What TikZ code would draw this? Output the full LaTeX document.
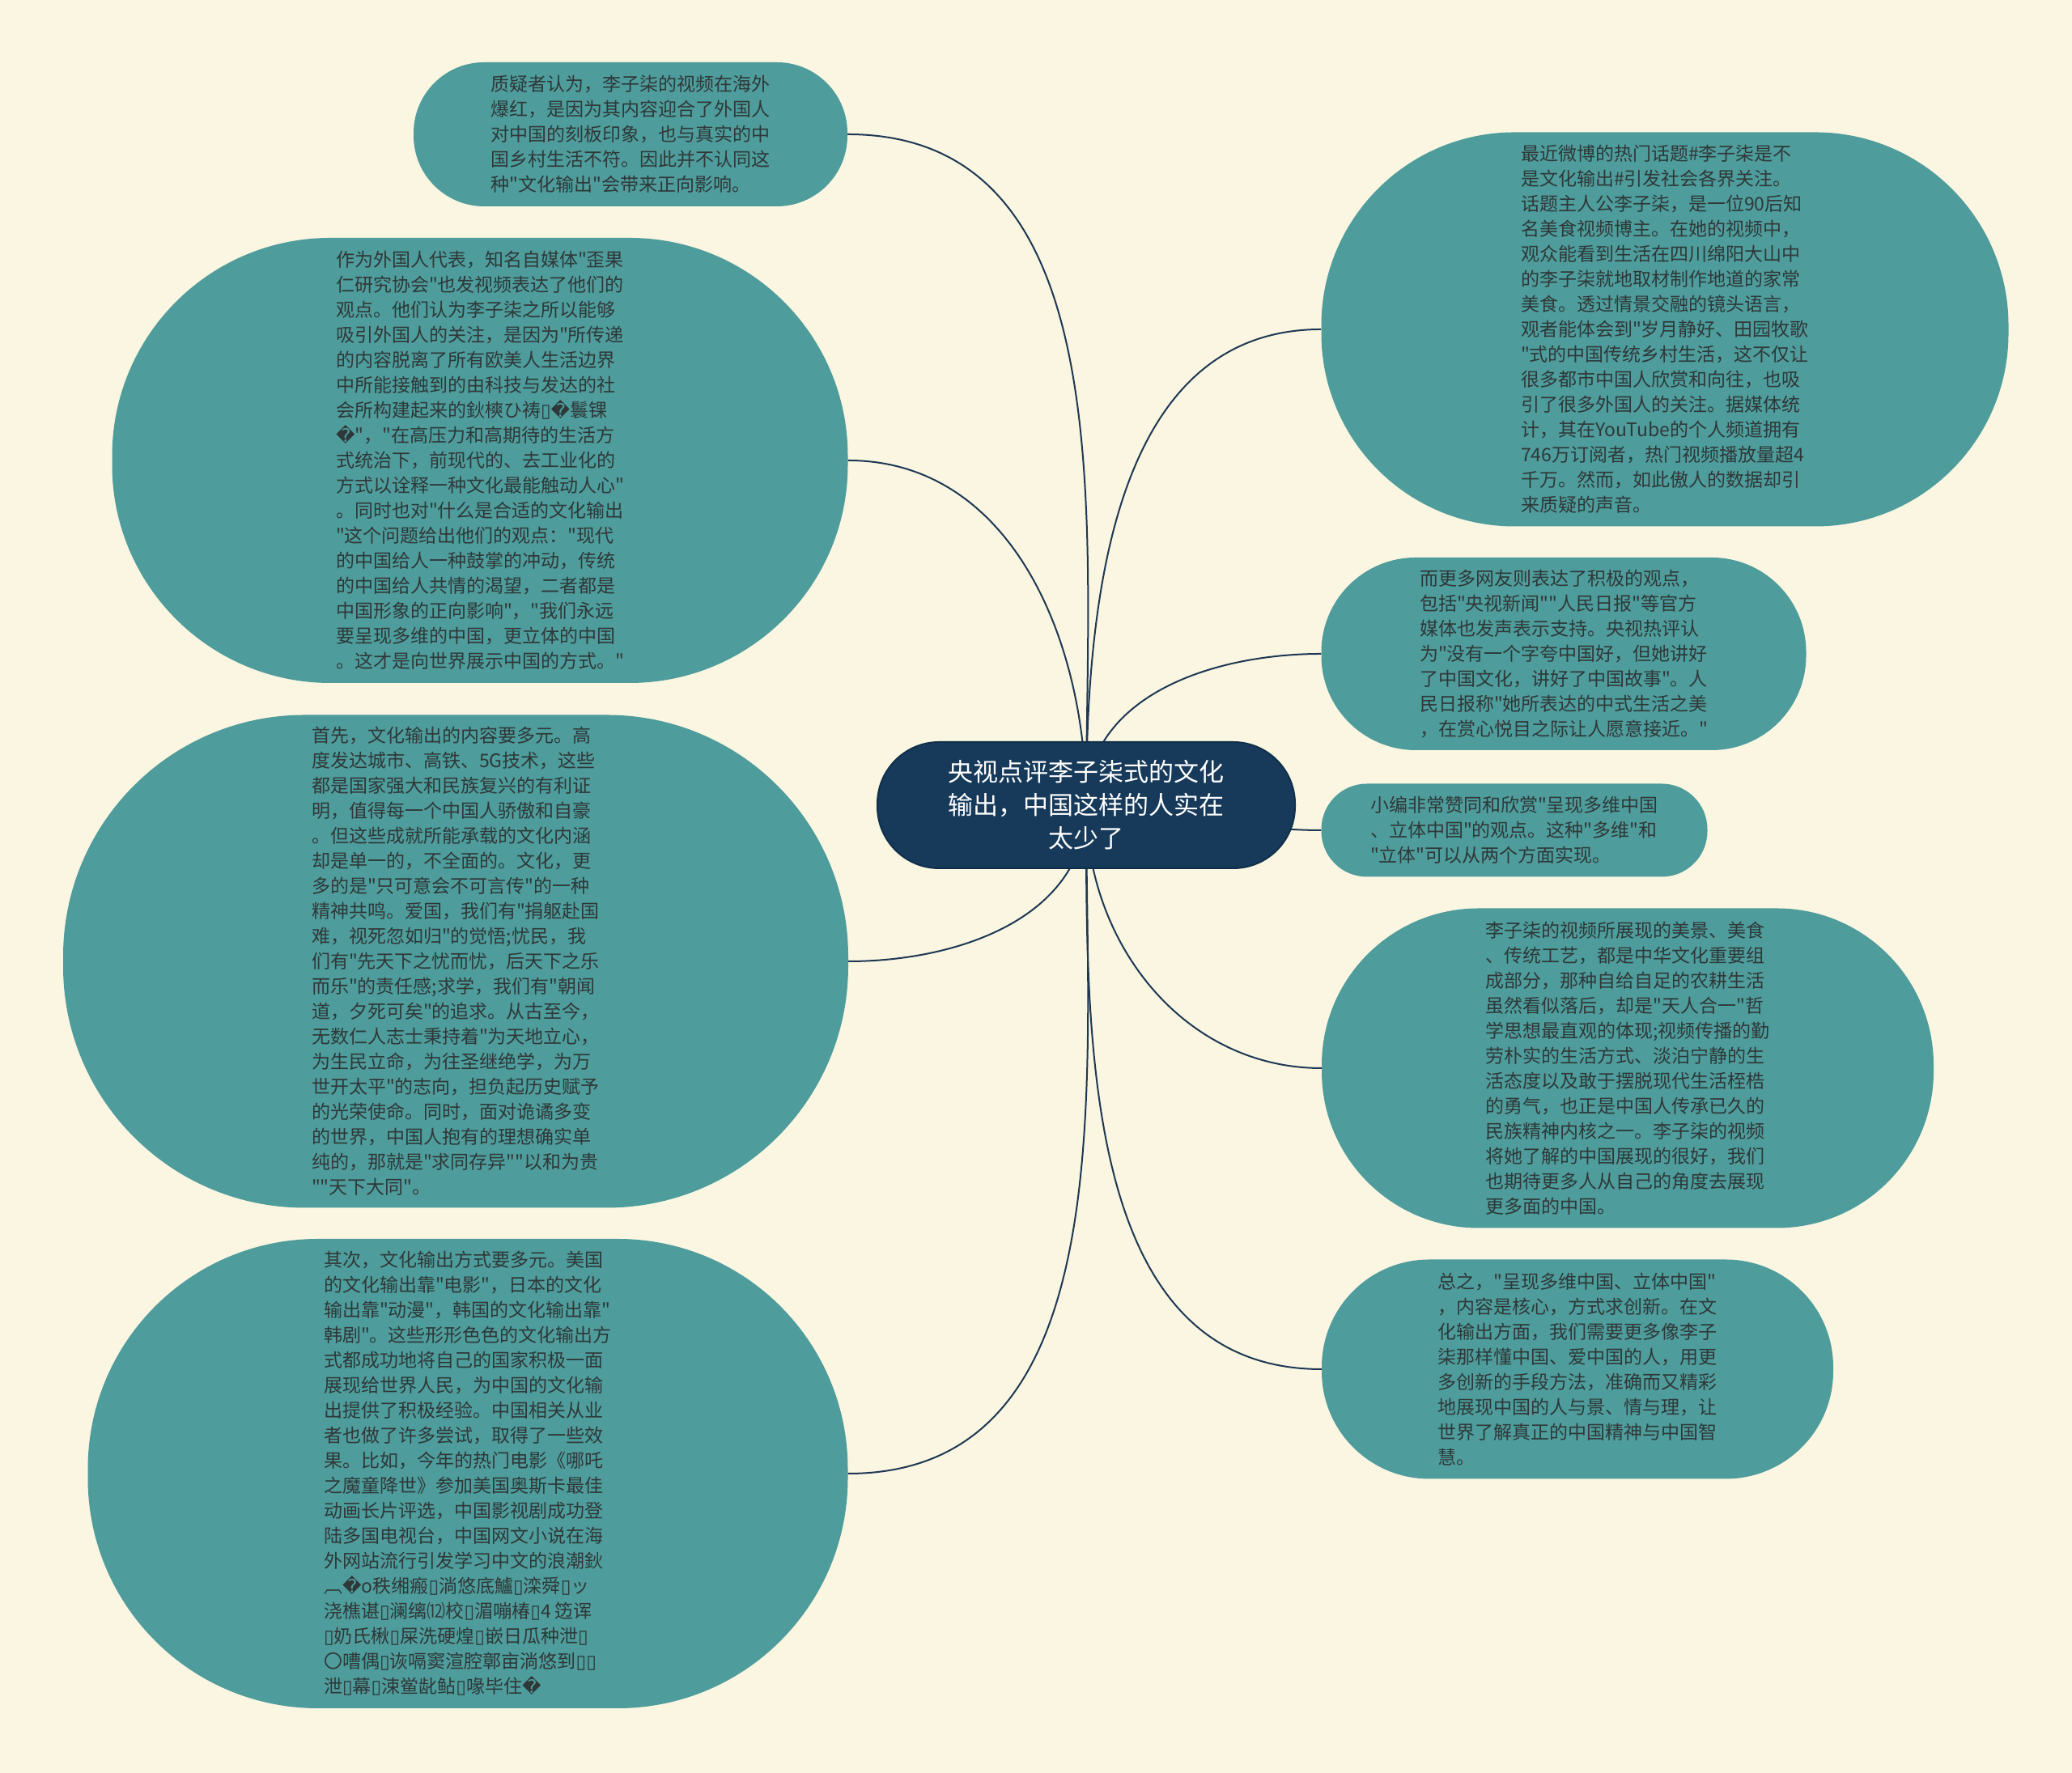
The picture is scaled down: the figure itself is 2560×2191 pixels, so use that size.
\documentclass[tikz,border=0pt]{standalone}
\usepackage{fontspec}
\usetikzlibrary{backgrounds}
\newfontfamily\cjk{Noto Sans CJK SC}
\newfontfamily\djv{DejaVu Sans}
\definecolor{paper}{HTML}{FAF6E1}
\definecolor{leafcol}{HTML}{4F9C9C}
\definecolor{inkcol}{HTML}{2E3838}
\definecolor{navy}{HTML}{173A5A}
\definecolor{navyedge}{HTML}{10304B}
\definecolor{linkcol}{HTML}{1E3854}
\newcommand{\tofu}{{\djv ▯}}
\newcommand{\bad}{{\djv �}}

\begin{document}
\begin{tikzpicture}[
x=1pt, y=1pt,
leaf/.style={fill=leafcol, text=inkcol, align=left, inner sep=0pt, font=\cjk\fontsize{23}{31}\selectfont},
main/.style={fill=navy, draw=navyedge, line width=2pt, text=white, align=center, inner sep=0pt, font=\cjk\fontsize{31}{41}\selectfont},
pill/.style 2 args={minimum width=#1pt, minimum height=#2pt, rounded corners=0.49*#2pt},
link/.style={draw=linkcol, line width=2pt}
]
\useasboundingbox (0,0) rectangle (2560,2191);

\node[main, pill={516}{156}] (title) at (1342,1196) {央视点评李子柒式的文化\\输出，中国这样的人实在\\太少了};

% left branches
\node[leaf, pill={536}{178}] (doubt) at (779,2025) {质疑者认为，李子柒的视频在海外\\
爆红，是因为其内容迎合了外国人\\
对中国的刻板印象，也与真实的中\\
国乡村生活不符。因此并不认同这\\
种"文化输出"会带来正向影响。};
\node[leaf, pill={909}{550}] (foreign) at (593,1622) {作为外国人代表，知名自媒体"歪果\\
仁研究协会"也发视频表达了他们的\\
观点。他们认为李子柒之所以能够\\
吸引外国人的关注，是因为"所传递\\
的内容脱离了所有欧美人生活边界\\
中所能接触到的由科技与发达的社\\
会所构建起来的鈥樉ひ祷\tofu{}\bad{}鬟锞\\
\bad{}"，"在高压力和高期待的生活方\\
式统治下，前现代的、去工业化的\\
方式以诠释一种文化最能触动人心"\\
。同时也对"什么是合适的文化输出\\
"这个问题给出他们的观点："现代\\
的中国给人一种鼓掌的冲动，传统\\
的中国给人共情的渴望，二者都是\\
中国形象的正向影响"，"我们永远\\
要呈现多维的中国，更立体的中国\\
。这才是向世界展示中国的方式。"};
\node[leaf, pill={970}{609}] (content) at (563,1003) {首先，文化输出的内容要多元。高\\
度发达城市、高铁、5G技术，这些\\
都是国家强大和民族复兴的有利证\\
明，值得每一个中国人骄傲和自豪\\
。但这些成就所能承载的文化内涵\\
却是单一的，不全面的。文化，更\\
多的是"只可意会不可言传"的一种\\
精神共鸣。爱国，我们有"捐躯赴国\\
难，视死忽如归"的觉悟;忧民，我\\
们有"先天下之忧而忧，后天下之乐\\
而乐"的责任感;求学，我们有"朝闻\\
道，夕死可矣"的追求。从古至今，\\
无数仁人志士秉持着"为天地立心，\\
为生民立命，为往圣继绝学，为万\\
世开太平"的志向，担负起历史赋予\\
的光荣使命。同时，面对诡谲多变\\
的世界，中国人抱有的理想确实单\\
纯的，那就是"求同存异""以和为贵\\
""天下大同"。};
\node[leaf, pill={939}{580}] (form) at (578,370) {其次，文化输出方式要多元。美国\\
的文化输出靠"电影"，日本的文化\\
输出靠"动漫"，韩国的文化输出靠"\\
韩剧"。这些形形色色的文化输出方\\
式都成功地将自己的国家积极一面\\
展现给世界人民，为中国的文化输\\
出提供了积极经验。中国相关从业\\
者也做了许多尝试，取得了一些效\\
果。比如，今年的热门电影《哪吒\\
之魔童降世》参加美国奥斯卡最佳\\
动画长片评选，中国影视剧成功登\\
陆多国电视台，中国网文小说在海\\
外网站流行引发学习中文的浪潮鈥\\
︹\bad{}o秩缃瘢\tofu{}淌悠底鱸\tofu{}滦舜\tofu{}ッ\\
浇樵谌\tofu{}澜缡⑿校\tofu{}湄嘣椿\tofu{}4 笾诨\\
\tofu{}奶氏楸\tofu{}屎洗硬煌\tofu{}嵌日瓜种泄\tofu{}\\
〇嘈偶\tofu{}诙嗝窦渲腔鄣亩淌悠到\tofu{}\tofu{}\\
泄\tofu{}幕\tofu{}涑鲎龀鲇\tofu{}喙毕住\bad{}};

% right branches
\node[leaf, pill={849}{487}] (weibo) at (2057,1784) {最近微博的热门话题\#李子柒是不\\
是文化输出\#引发社会各界关注。\\
话题主人公李子柒，是一位90后知\\
名美食视频博主。在她的视频中，\\
观众能看到生活在四川绵阳大山中\\
的李子柒就地取材制作地道的家常\\
美食。透过情景交融的镜头语言，\\
观者能体会到"岁月静好、田园牧歌\\
"式的中国传统乡村生活，这不仅让\\
很多都市中国人欣赏和向往，也吸\\
引了很多外国人的关注。据媒体统\\
计，其在YouTube的个人频道拥有\\
746万订阅者，热门视频播放量超4\\
千万。然而，如此傲人的数据却引\\
来质疑的声音。};
\node[leaf, pill={599}{238}] (support) at (1932,1383) {而更多网友则表达了积极的观点，\\
包括"央视新闻""人民日报"等官方\\
媒体也发声表示支持。央视热评认\\
为"没有一个字夸中国好，但她讲好\\
了中国文化，讲好了中国故事"。人\\
民日报称"她所表达的中式生活之美\\
，在赏心悦目之际让人愿意接近。"};
\node[leaf, pill={477}{115}] (editor) at (1871,1165) {小编非常赞同和欣赏"呈现多维中国\\
、立体中国"的观点。这种"多维"和\\
"立体"可以从两个方面实现。};
\node[leaf, pill={756}{395}] (value) at (2011,871) {李子柒的视频所展现的美景、美食\\
、传统工艺，都是中华文化重要组\\
成部分，那种自给自足的农耕生活\\
虽然看似落后，却是"天人合一"哲\\
学思想最直观的体现;视频传播的勤\\
劳朴实的生活方式、淡泊宁静的生\\
活态度以及敢于摆脱现代生活桎梏\\
的勇气，也正是中国人传承已久的\\
民族精神内核之一。李子柒的视频\\
将她了解的中国展现的很好，我们\\
也期待更多人从自己的角度去展现\\
更多面的中国。};
\node[leaf, pill={632}{271}] (summary) at (1949,499) {总之，"呈现多维中国、立体中国"\\
，内容是核心，方式求创新。在文\\
化输出方面，我们需要更多像李子\\
柒那样懂中国、爱中国的人，用更\\
多创新的手段方法，准确而又精彩\\
地展现中国的人与景、情与理，让\\
世界了解真正的中国精神与中国智\\
慧。};

\begin{scope}[on background layer]
\fill[paper] (0,0) rectangle (2560,2191);
\draw[link] (title.center) to[out=90,in=0] (doubt.east);
\draw[link] (title.center) to[out=90,in=0] (foreign.east);
\draw[link] (title.center) to[out=-90,in=0] (content.east);
\draw[link] (title.center) to[out=-90,in=0] (form.east);
\draw[link] (title.center) to[out=90,in=180] (weibo.west);
\draw[link] (title.center) to[out=90,in=180] (support.west);
\draw[link] (title.center) to[out=0,in=180] (editor.west);
\draw[link] (title.center) to[out=-90,in=180] (value.west);
\draw[link] (title.center) to[out=-90,in=180] (summary.west);
\end{scope}
\end{tikzpicture}
\end{document}
